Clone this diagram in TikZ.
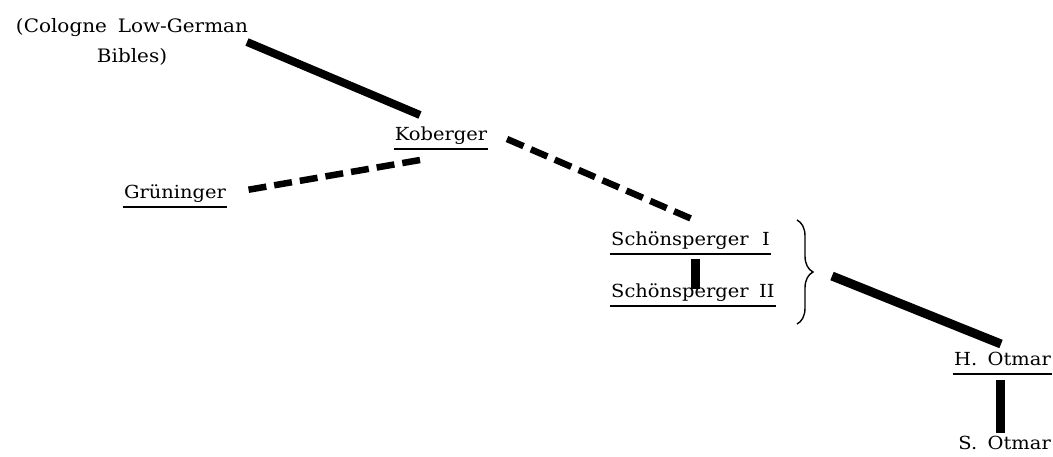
\documentclass[tikz,border=0pt]{standalone}
\usepackage{fontspec}
\setmainfont{DejaVu Serif}[FakeStretch=1.08,WordSpace=1.7]
\usetikzlibrary{calc,decorations.pathreplacing}
\begin{document}
\begin{tikzpicture}[x=1pt,y=-1pt,
  lbl/.style={anchor=base,inner sep=0pt,font=\fontsize{18}{28}\selectfont},
  uline/.style={line width=2pt},
  solidlink/.style={line width=8pt},
  dashlink/.style={line width=6.5pt,dash pattern=on 18pt off 8pt},
  barlink/.style={line width=9pt},
  bracestyle/.style={line width=1.4pt,decorate,decoration={brace,amplitude=16pt}}]
\useasboundingbox (0,0) rectangle (1053,456);
% nodes
\node[lbl,anchor=north,align=center,font=\fontsize{18.5}{30}\selectfont] (cologne) at (132,18) {(Cologne Low-German\\Bibles)};
\node[lbl] (kob) at (441,140) {Koberger};
\node[lbl] (grun) at (175,198) {Grüninger};
\node[lbl,anchor=base west] (schI) at (611,245) {Schönsperger\hspace{3pt} I};
\node[lbl,anchor=base west] (schII) at (611,297) {Schönsperger II};
\node[lbl,anchor=base east] (hot) at (1051,365) {H. Otmar};
\node[lbl,anchor=base east] (sot) at (1051,449) {S. Otmar};
% underlines
\foreach \n in {kob,grun,schI,schII,hot}
  \draw[uline] ($(\n.base west)+(-1,9)$) -- ($(\n.base east)+(1,9)$);
% connector end points
\coordinate (c1) at (247,42);
\coordinate (k1) at (420,115);
\coordinate (k2) at (420,160);
\coordinate (g1) at (247,190);
\coordinate (k3) at (507,139);
\coordinate (s1) at (692,219);
\coordinate (s2) at (695,259);
\coordinate (s3) at (695,289);
\coordinate (bt) at (797,220);
\coordinate (bb) at (797,324);
\coordinate (b1) at (832,276);
\coordinate (h1) at (1001,344);
\coordinate (h2) at (1000,380);
\coordinate (o1) at (1000,433);
% connectors
\draw[solidlink] (c1) -- (k1);
\draw[dashlink] (k2) -- (g1);
\draw[dashlink] (k3) -- (s1);
\draw[barlink] (s2) -- (s3);
\draw[bracestyle] (bt) -- (bb);
\draw[solidlink,line width=9pt] (b1) -- (h1);
\draw[barlink] (h2) -- (o1);
\end{tikzpicture}
\end{document}
